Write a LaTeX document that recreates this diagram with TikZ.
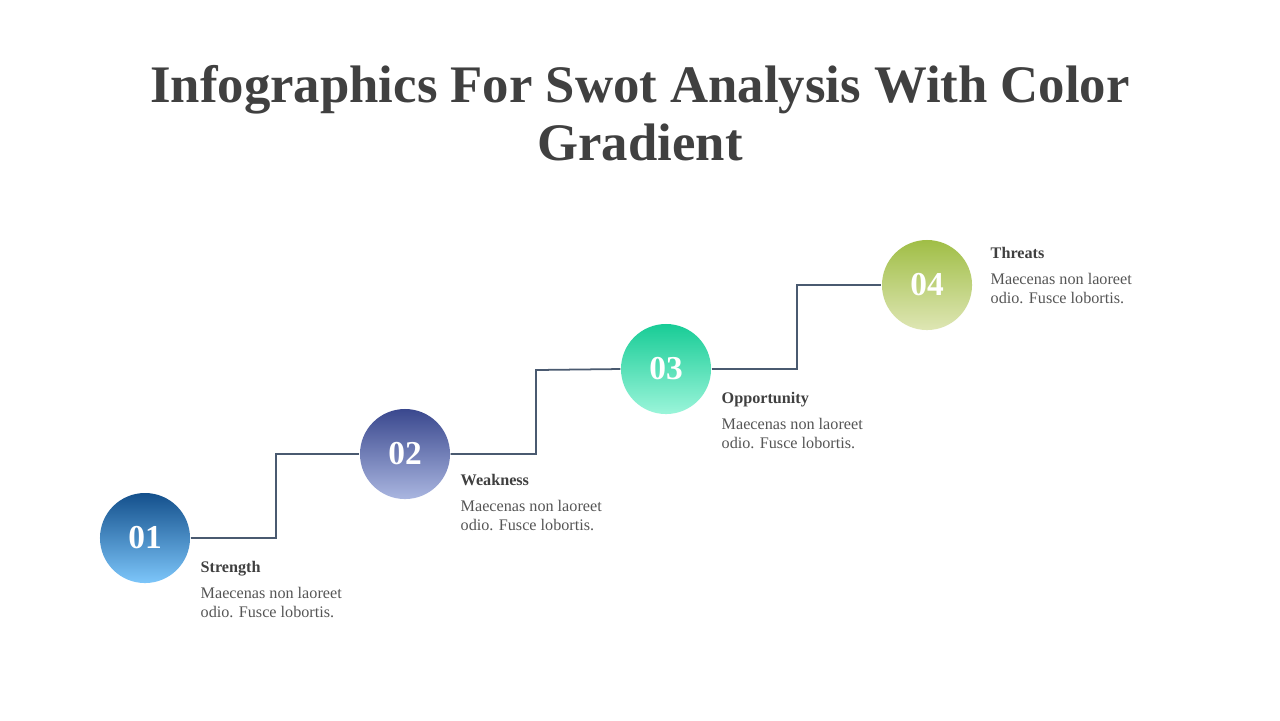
\documentclass[tikz,border=0pt]{standalone}
\usepackage{fontspec}
\setmainfont{Liberation Serif}
\definecolor{txt}{HTML}{404040}
\definecolor{body}{HTML}{555555}
\definecolor{ln}{HTML}{4A5A70}
\begin{document}
\begin{tikzpicture}[x=0.01cm,y=-0.01cm,
  num/.style={circle,minimum size=0.9cm,inner sep=0pt,text=white,font=\bfseries\fontsize{9.5}{10}\selectfont},
  head/.style={anchor=north west,inner sep=0pt,text=txt,font=\bfseries\fontsize{4.6}{5.5}\selectfont},
  desc/.style={anchor=north west,inner sep=0pt,text=body,align=left,font=\fontsize{4.6}{5.2}\selectfont},
  conn/.style={ln,line width=0.5pt}]
\useasboundingbox[fill=white] (0,0) rectangle (1280,720);
\node[text=txt,align=center,font=\bfseries\fontsize{15}{16.5}\selectfont] (title) at (640,113) {Infographics For Swot Analysis With Color\\Gradient};
\node[num,top color={rgb,255:red,20;green,80;blue,140},bottom color={rgb,255:red,125;green,198;blue,250}] (c1) at (145,538) {01};
\node[num,top color={rgb,255:red,58;green,72;blue,142},bottom color={rgb,255:red,170;green,182;blue,224}] (c2) at (405,454) {02};
\node[num,top color={rgb,255:red,24;green,204;blue,150},bottom color={rgb,255:red,155;green,245;blue,218}] (c3) at (666,369) {03};
\node[num,top color={rgb,255:red,160;green,190;blue,70},bottom color={rgb,255:red,222;green,230;blue,180}] (c4) at (927,285) {04};
\draw[conn] (c1.east) -| (276,454) -- (c2.west);
\draw[conn] (c2.east) -| (536,370) -- (c3.west);
\draw[conn] (c3.east) -| (797,285) -- (c4.west);
\node[head] (h1) at (200,561) {Strength};
\node[desc] (d1) at (200,587) {Maecenas non laoreet\\odio. Fusce lobortis.};
\node[head] (h2) at (460,474) {Weakness};
\node[desc] (d2) at (460,500) {Maecenas non laoreet\\odio. Fusce lobortis.};
\node[head] (h3) at (721,392) {Opportunity};
\node[desc] (d3) at (721,418) {Maecenas non laoreet\\odio. Fusce lobortis.};
\node[head] (h4) at (990,247) {Threats};
\node[desc] (d4) at (990,273) {Maecenas non laoreet\\odio. Fusce lobortis.};
\end{tikzpicture}
\end{document}
